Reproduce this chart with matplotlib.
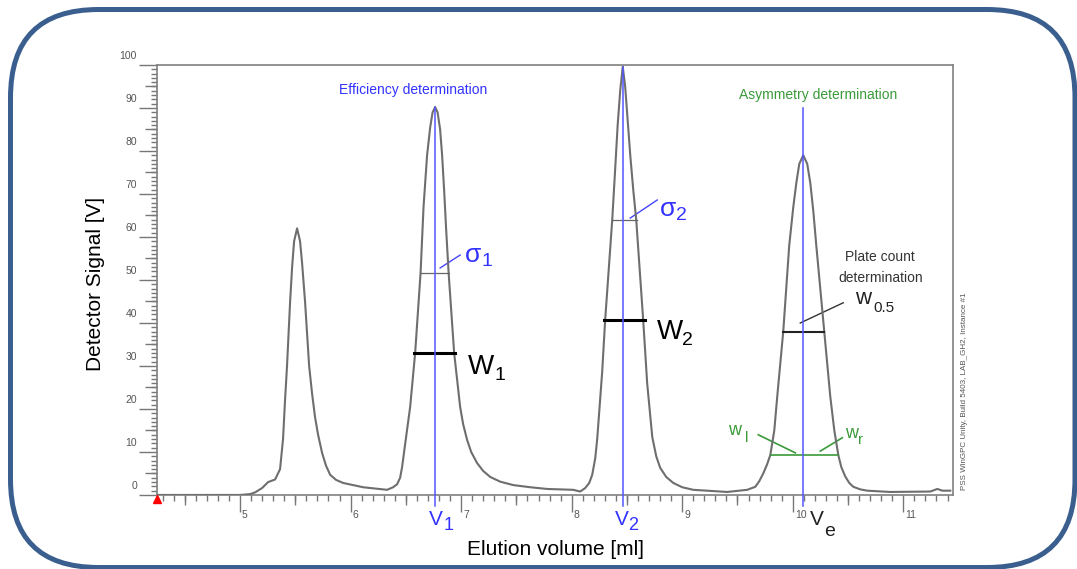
import matplotlib
matplotlib.use("Agg")
import matplotlib.pyplot as plt
from matplotlib.patches import FancyBboxPatch
from matplotlib.transforms import ScaledTranslation, IdentityTransform
from matplotlib.ticker import MultipleLocator

plt.rcParams['font.family'] = ['Liberation Sans', 'DejaVu Sans']

# chromatogram (ml, V)
elution_ml = [4.249, 4.638, 5.000, 5.091, 5.136, 5.199, 5.254, 5.317, 5.362, 5.389,
              5.407, 5.425, 5.453, 5.471, 5.489, 5.516, 5.543, 5.561, 5.588, 5.625,
              5.652, 5.679, 5.706, 5.742, 5.778, 5.815, 5.869, 5.932, 6.113, 6.330,
              6.385, 6.421, 6.448, 6.466, 6.484, 6.539, 6.584, 6.633, 6.660, 6.692,
              6.720, 6.742, 6.765, 6.787, 6.810, 6.828, 6.846, 6.864, 6.887, 6.937,
              6.991, 7.018, 7.054, 7.091, 7.145, 7.199, 7.263, 7.353, 7.471, 7.625,
              7.778, 8.014, 8.077, 8.122, 8.159, 8.186, 8.213, 8.231, 8.276, 8.303,
              8.367, 8.394, 8.416, 8.439, 8.462, 8.484, 8.507, 8.530, 8.557, 8.584,
              8.647, 8.683, 8.729, 8.765, 8.801, 8.855, 8.919, 9.000, 9.100, 9.407,
              9.588, 9.661, 9.697, 9.733, 9.769, 9.797, 9.833, 9.860, 9.914, 9.968,
              10.005, 10.032, 10.059, 10.095, 10.131, 10.159, 10.186, 10.213, 10.285, 10.339,
              10.376, 10.412, 10.439, 10.475, 10.511, 10.548, 10.611, 10.674, 10.882, 11.244,
              11.308, 11.353, 11.425]
signal_v = [0, 0, 0, 0.2, 0.6, 1.6, 3.0, 3.6, 6.0, 13,
            22, 30, 45, 53, 59, 62, 59, 54, 45, 30,
            23.5, 18, 14, 9.8, 6.8, 4.7, 3.5, 2.8, 1.8, 1.2,
            1.8, 2.5, 4.0, 6.5, 10, 20.5, 33, 51.6, 67, 79,
            85.5, 89, 90.2, 89, 85, 79, 71, 62, 51.6, 33,
            20.5, 16.5, 12.8, 10, 7.4, 5.6, 4.2, 3.1, 2.3, 1.8,
            1.4, 1.2, 0.8, 1.6, 2.8, 4.7, 8.5, 13, 28.6, 40.7,
            64, 76, 86, 94, 99.6, 95, 87, 79, 71, 64,
            40.7, 26, 13.5, 9, 6.3, 4.2, 2.8, 1.8, 1.2, 0.7,
            1.2, 1.9, 3.2, 5.0, 7.2, 9.3, 15, 23, 38, 58,
            67, 72.5, 77, 79, 77, 72.5, 66, 58, 38, 23,
            15, 9.3, 6.5, 4.3, 2.8, 1.9, 1.3, 1.0, 0.7, 0.8,
            1.4, 1.0, 1.0]

# retention volumes and the height where each marker line starts
v_pos = [6.765, 8.462, 10.095]
v_top = [90.2, 99.6, 90.0]

# width measurements: (height, left ml, right ml)
sigma_lines = [(51.6, 6.633, 6.890), (64.0, 8.367, 8.593)]
w_lines = [(33.0, 6.575, 6.946), (40.7, 8.294, 8.665)]
w05_line = (38.0, 9.914, 10.285)
w10_line = (9.3, 9.806, 10.412)

fig = plt.figure(figsize=(10.77, 5.69), dpi=100)
ax = fig.add_axes([0.1458, 0.1301, 0.7391, 0.7557])

ax.plot(elution_ml, signal_v, color='#6e6e6e', lw=1.5, zorder=3, solid_joinstyle='round')

# measurement bars
for h, a, b in sigma_lines:
    ax.plot([a, b], [h, h], color='#666666', lw=0.9, zorder=4)
for h, a, b in w_lines:
    ax.plot([a, b], [h, h], color='black', lw=2.2, zorder=4)
ax.plot([w05_line[1], w05_line[2]], [w05_line[0]] * 2, color='#222222', lw=1.5, zorder=4)
ax.plot([w10_line[1], w10_line[2]], [w10_line[0]] * 2, color='#3a9a3a', lw=1.2, zorder=4)

# vertical marker lines
for v, t in zip(v_pos, v_top):
    ax.plot([v, v], [t, -2.6], color='#5555ff', lw=1.1, zorder=5, clip_on=False)

# leader lines
ax.plot([6.810, 6.991], [52.8, 55.8], color='#4444ff', lw=1)
ax.plot([8.530, 8.774], [64.4, 68.6], color='#4444ff', lw=1)
ax.plot([10.068, 10.457], [40.0, 44.7], color='#333333', lw=1)
ax.plot([9.688, 10.023], [14.0, 9.8], color='#3a9a3a', lw=1.2)
ax.plot([10.249, 10.448], [10.2, 13.3], color='#3a9a3a', lw=1.2)


def sublabel(x, y, main, sub, xs, ys, size, subsize, color):
    ax.text(x, y, main, fontsize=size, color=color, ha='left', va='center', clip_on=False)
    ax.text(xs, ys, sub, fontsize=subsize, color=color, ha='left', va='center', clip_on=False)


blue = '#3333ff'
green = '#3a9a3a'
sublabel(7.036, 55.8, 'σ', '1', 7.185, 54.2, 19, 14, blue)
sublabel(8.801, 66.6, 'σ', '2', 8.945, 65.0, 19, 14, blue)
sublabel(7.063, 29.8, 'W', '1', 7.300, 27.9, 20, 14, 'black')
sublabel(8.774, 37.9, 'W', '2', 9.001, 36.0, 20, 14, 'black')
sublabel(6.711, -5.6, 'V', '1', 6.846, -7.2, 15, 13, blue)
sublabel(8.394, -5.6, 'V', '2', 8.512, -7.2, 15, 13, blue)
sublabel(10.159, -5.8, 'V', 'e', 10.285, -8.6, 15, 14, '#222222')
sublabel(10.562, 45.8, 'w', '0.5', 10.729, 43.5, 16, 11, '#222222')
sublabel(9.416, 15.1, 'w', 'l', 9.565, 13.3, 13, 11, green)
sublabel(10.475, 14.4, 'w', 'r', 10.590, 12.8, 13, 11, green)

ax.text(10.792, 55.3, 'Plate count', fontsize=10, color='#333333', ha='center', va='center')
ax.text(10.792, 50.5, 'determination', fontsize=10, color='#333333', ha='center', va='center')
ax.text(6.566, 94.2, 'Efficiency determination', fontsize=10, color=blue, ha='center', va='center')
ax.text(10.231, 93.0, 'Asymmetry determination', fontsize=10, color=green, ha='center', va='center')

ax.plot(4.249, -0.93, marker='^', color='red', ms=6, clip_on=False, zorder=6)

ax.set_xlim(4.249, 11.45)
ax.set_ylim(0, 100)
for s in ax.spines.values():
    s.set_color('#808080')
    s.set_linewidth(1.2)

ax.set_xticks(list(range(5, 12)))
ax.xaxis.set_minor_locator(MultipleLocator(0.1))
ax.set_yticks(list(range(0, 101, 10)))
ax.yaxis.set_minor_locator(MultipleLocator(1))
ax.tick_params(axis='x', which='major', length=12, width=1, color='#777777',
               pad=-1.2, labelsize=7.5, labelcolor='#555555')
ax.tick_params(axis='y', which='major', length=13, width=1, color='#777777',
               pad=1.4, labelsize=7.5, labelcolor='#555555')
ax.tick_params(which='minor', length=4.3, width=1, color='#777777')

secx = ax.secondary_xaxis('bottom')
secx.set_xticks([4.5, 5.5, 6.5, 7.5, 8.5, 9.5, 10.5])
secx.tick_params(length=7.2, width=1, color='#777777', labelbottom=False)
secx.spines['bottom'].set_visible(False)
secy = ax.secondary_yaxis('left')
secy.set_yticks([5, 15, 25, 35, 45, 55, 65, 75, 85, 95])
secy.tick_params(length=8.6, width=1, color='#777777', labelleft=False)
secy.spines['left'].set_visible(False)

for t in ax.xaxis.get_major_ticks():
    t.label1.set_horizontalalignment('left')
    t.label1.set_transform(t.label1.get_transform() + ScaledTranslation(0.02, 0, fig.dpi_scale_trans))
for t in ax.yaxis.get_major_ticks():
    t.label1.set_transform(t.label1.get_transform() + ScaledTranslation(0, 0.10, fig.dpi_scale_trans))

ax.set_xlabel('Elution volume [ml]', fontsize=15)
ax.xaxis.set_label_coords(0.5, -0.105)
ax.set_ylabel('Detector Signal [V]', fontsize=15)
ax.yaxis.set_label_coords(-0.0653, 0.4907)

fig.text(0.896, 0.139, 'PSS WinGPC Unity, Build 5403, LAB_GH2, Instance #1',
         rotation=90, fontsize=5.8, color='#555555', ha='center', va='bottom')

box = FancyBboxPatch((10.5, 1.5), 1064.5, 558, boxstyle='round,pad=0,rounding_size=88',
                     transform=IdentityTransform(), fill=False, ec='#3a5f8f', lw=3.6)
fig.add_artist(box)

fig.savefig('out.png', dpi=100)
